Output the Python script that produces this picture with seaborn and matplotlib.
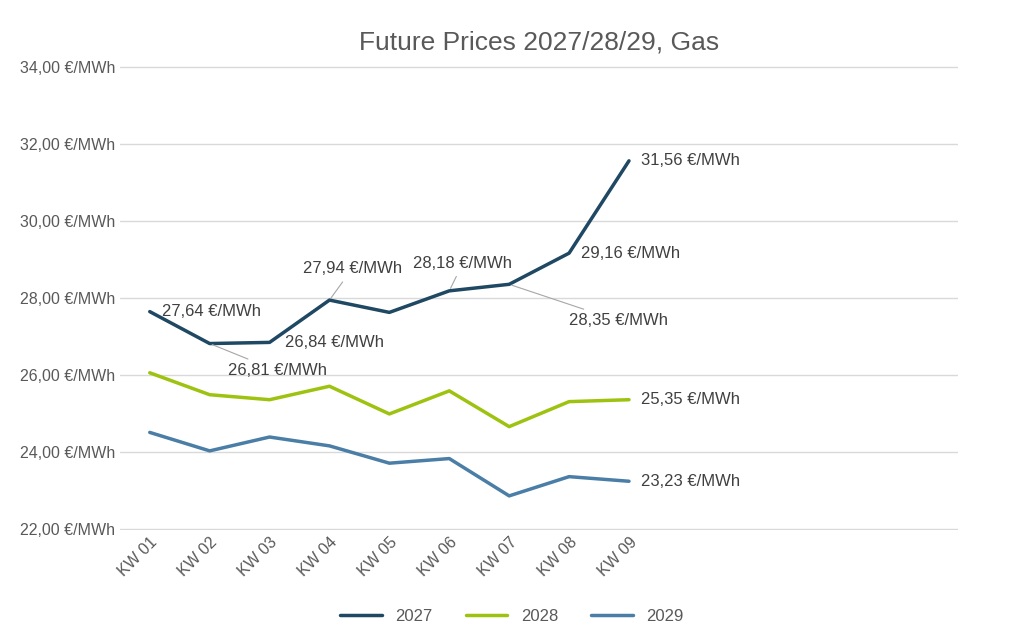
import pandas as pd
import matplotlib.pyplot as plt
import seaborn as sns

weeks = ["KW 01", "KW 02", "KW 03", "KW 04", "KW 05", "KW 06", "KW 07", "KW 08", "KW 09"]
prices = {
    "2027": [27.64, 26.81, 26.84, 27.94, 27.62, 28.18, 28.35, 29.16, 31.56],
    "2028": [26.05, 25.48, 25.35, 25.70, 24.98, 25.58, 24.65, 25.30, 25.35],
    "2029": [24.50, 24.02, 24.38, 24.15, 23.70, 23.82, 22.85, 23.35, 23.23],
}
colors = {"2027": "#1f4863", "2028": "#9dc310", "2029": "#4a7ea6"}

df = pd.DataFrame(prices)
df["idx"] = range(len(weeks))
data = df.melt(id_vars="idx", var_name="Jahr", value_name="Preis")

sns.set_style("white")
plt.rcParams["font.family"] = ["Liberation Sans", "DejaVu Sans"]
fig = plt.figure(figsize=(10.24, 6.39), dpi=100)
ax = fig.add_axes([0.117, 0.171, 0.819, 0.726])
sns.lineplot(data=data, x="idx", y="Preis", hue="Jahr", palette=colors, linewidth=2.5, ax=ax, legend=False)

ax.set_xlim(-0.5, 13.5)
ax.set_ylim(21.97, 34.03)
ax.set_yticks(range(22, 35, 2))
ax.set_yticklabels([f"{v:.2f} €/MWh".replace(".", ",") for v in range(22, 35, 2)], color="#595959", fontsize=11.5)
ax.set_xticks(range(len(weeks)))
ax.set_xticklabels(weeks, rotation=45, ha="right", rotation_mode="anchor", color="#595959", fontsize=11.5)
ax.tick_params(length=0)
ax.grid(axis="y", color="#d9d9d9", linewidth=1)
for s in ax.spines.values():
    s.set_visible(False)
ax.set_xlabel("")
ax.set_ylabel("")
ax.set_title("Future Prices 2027/28/29, Gas", fontsize=19, color="#595959", pad=12)

def lab(v):
    return f"{v:.2f} €/MWh".replace(".", ",")

p = prices["2027"]
tc = "#404040"
# (index, text x, text y, leader line)
spots = [(0, 0.2, 27.64, False), (1, 0.3, 26.1, True), (2, 0.25, 26.84, False),
         (3, -0.45, 28.75, True), (5, -0.6, 28.9, True), (6, 1.0, 27.4, True),
         (7, 0.2, 29.16, False), (8, 0.2, 31.56, False)]
for i, tx, ty, line in spots:
    ax.annotate(lab(p[i]), xy=(i, p[i]), xytext=(i + tx, ty), va="center", ha="left",
                fontsize=12, color=tc,
                arrowprops=dict(arrowstyle="-", color="#a6a6a6", lw=0.8) if line else None)
ax.text(8.2, prices["2028"][8], lab(prices["2028"][8]), va="center", fontsize=12, color=tc)
ax.text(8.2, prices["2029"][8], lab(prices["2029"][8]), va="center", fontsize=12, color=tc)

handles = [plt.Line2D([], [], color=colors[k], lw=2.5) for k in prices]
fig.legend(handles, list(prices), loc="lower center", bbox_to_anchor=(0.5, 0.0), ncol=3,
           frameon=False, fontsize=12, labelcolor="#595959", handlelength=2.5)

fig.savefig("out.png", dpi=100)
